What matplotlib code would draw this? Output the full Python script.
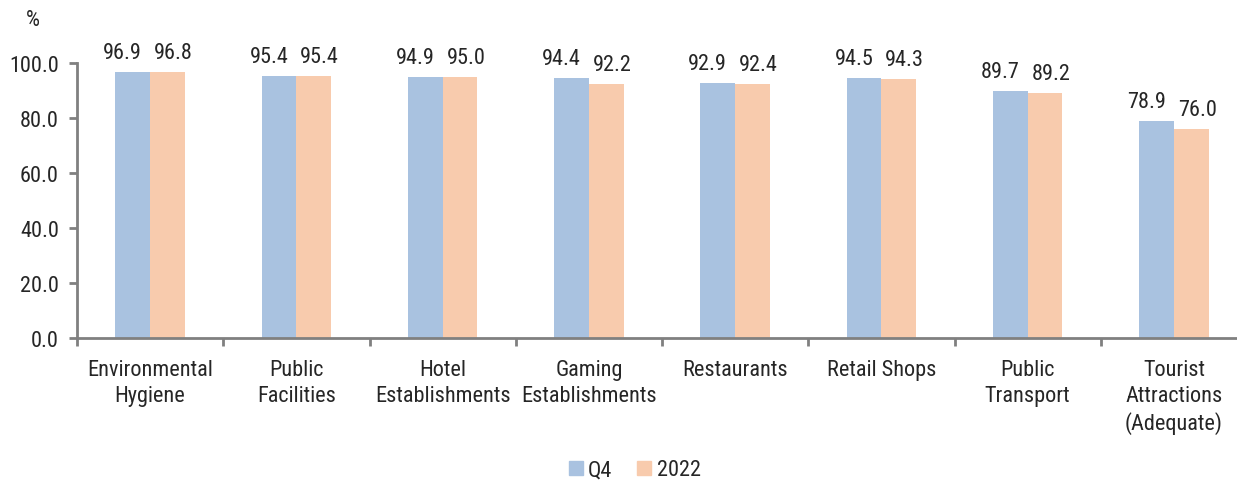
import matplotlib
matplotlib.use("Agg")
import matplotlib.pyplot as plt
import numpy as np

categories = ["Environmental\nHygiene", "Public\nFacilities", "Hotel\nEstablishments",
              "Gaming\nEstablishments", "Restaurants", "Retail Shops",
              "Public\nTransport", "Tourist\nAttractions\n(Adequate)"]
q4 = [96.9, 95.4, 94.9, 94.4, 92.9, 94.5, 89.7, 78.9]
y2022 = [96.8, 95.4, 95.0, 92.2, 92.4, 94.3, 89.2, 76.0]
series_names = ["Q4", "2022"]
yticks = [0, 20, 40, 60, 80, 100]

plt.rcParams['font.family'] = ['Roboto Condensed', 'DejaVu Sans']
fs = 16
txt = '#262626'
axc = '#808080'
c1 = '#A9C2E0'
c2 = '#F8CBAD'

W, H = 1237, 481
fig = plt.figure(figsize=(W/100, H/100), dpi=100)
left = 77/W
right = 1247/W
ax = fig.add_axes([left, (H-339)/H, right-left, 275/H])

x = np.arange(len(categories))
bw = 0.237
b1 = ax.bar(x - bw/2, q4, bw, color=c1, label=series_names[0])
b2 = ax.bar(x + bw/2, y2022, bw, color=c2, label=series_names[1])
px = 72/100
for bars, vals, dx in ((b1, q4, -10), (b2, y2022, 6)):
    for r, v in zip(bars, vals):
        ax.annotate(f"{v:.1f}", (r.get_x() + r.get_width()/2, v), xytext=(dx*px, 9*px),
                    textcoords='offset points', ha='center', va='bottom',
                    fontsize=fs, color=txt, clip_on=False)

ax.set_xlim(-0.5, len(categories) - 0.5)
ax.set_ylim(0, 100)
ax.set_yticks(yticks)
ax.set_yticklabels([f"{v:.1f}" for v in yticks])
ax.set_xticks(x)
ax.set_xticklabels(categories, linespacing=1.3)
ax.set_xticks(np.arange(len(categories) + 1) - 0.5, minor=True)
ax.tick_params(axis='x', which='major', length=0, pad=15, labelsize=fs, labelcolor=txt)
ax.tick_params(axis='x', which='minor', length=6, width=2, color=axc, direction='out')
ax.tick_params(axis='y', length=6, width=2, color=axc, pad=7, labelsize=fs, labelcolor=txt)
for s in ['top', 'right']:
    ax.spines[s].set_visible(False)
for s in ['left', 'bottom']:
    ax.spines[s].set_color(axc)
    ax.spines[s].set_linewidth(2)

fig.text(33/W, 1 - 21/H, "%", fontsize=fs, color=txt, ha='center', va='center')

handles = [plt.Line2D([], [], marker='s', linestyle='', markersize=9.5, color=c1),
           plt.Line2D([], [], marker='s', linestyle='', markersize=9.5, color=c2)]
fig.legend(handles, series_names, loc='center', bbox_to_anchor=(632/W, 1 - 471/H),
           ncol=2, frameon=False, fontsize=fs, handletextpad=0.0, columnspacing=0.9,
           handlelength=1.1, labelcolor=txt)

fig.savefig("out.png", dpi=100)
